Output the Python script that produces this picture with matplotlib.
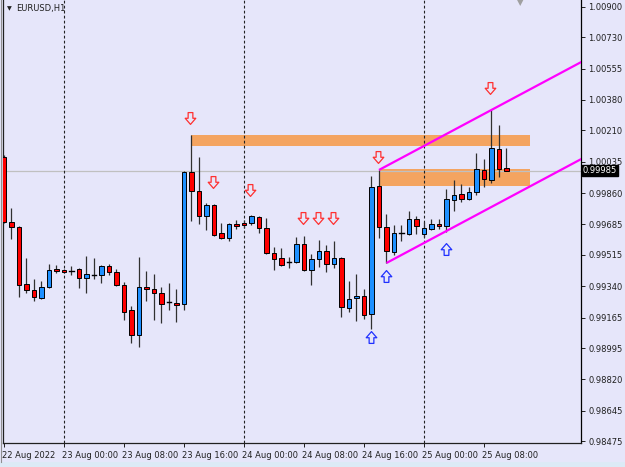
import matplotlib
matplotlib.use('Agg')
import matplotlib.pyplot as plt
import matplotlib.transforms as mtransforms
from matplotlib.patches import Rectangle
from matplotlib.path import Path

# ---------------- data (EURUSD H1, bars from 22 Aug 16:00) ----------------
opens = [1.00061, 0.99699, 0.99671, 0.99353, 0.99319, 0.99275, 0.99336, 0.99436, 0.99431, 0.99425,
         0.99436, 0.99386, 0.99403, 0.99403, 0.99453, 0.99420, 0.99347, 0.99208, 0.99068, 0.99336,
         0.99325, 0.99303, 0.99252, 0.99247, 0.99241, 0.99978, 0.99872, 0.99732, 0.99794, 0.99637,
         0.99609, 0.99688, 0.99693, 0.99693, 0.99727, 0.99665, 0.99526, 0.99498, 0.99475, 0.99475,
         0.99576, 0.99431, 0.99492, 0.99537, 0.99464, 0.99498, 0.99219, 0.99275, 0.99286, 0.99185,
         0.99900, 0.99671, 0.99531, 0.99637, 0.99632, 0.99715, 0.99632, 0.99660, 0.99688, 0.99676,
         0.99821, 0.99855, 0.99827, 0.99866, 0.99989, 0.99933, 1.00106, 1.00000]
highs = [1.00073, 0.99777, 0.99676, 0.99498, 0.99381, 0.99369, 0.99464, 0.99459, 0.99436, 0.99453,
         0.99442, 0.99509, 0.99498, 0.99459, 0.99464, 0.99436, 0.99364, 0.99230, 0.99503, 0.99425,
         0.99409, 0.99336, 0.99358, 0.99325, 0.99983, 1.00184, 1.00061, 0.99805, 0.99799, 0.99693,
         0.99693, 0.99710, 0.99710, 0.99738, 0.99732, 0.99721, 0.99559, 0.99554, 0.99503, 0.99615,
         0.99621, 0.99520, 0.99598, 0.99570, 0.99593, 0.99503, 0.99369, 0.99409, 0.99325, 0.99955,
         0.99989, 0.99743, 0.99682, 0.99682, 0.99760, 0.99732, 0.99699, 0.99715, 0.99715, 0.99883,
         0.99933, 0.99911, 0.99894, 1.00084, 1.00050, 1.00324, 1.00240, 1.00112]
lows = [0.99693, 0.99604, 0.99280, 0.99303, 0.99258, 0.99269, 0.99330, 0.99414, 0.99414, 0.99403,
        0.99330, 0.99303, 0.99381, 0.99358, 0.99403, 0.99342, 0.99152, 0.99024, 0.99001, 0.99258,
        0.99152, 0.99135, 0.99208, 0.99141, 0.99208, 0.99704, 0.99688, 0.99654, 0.99621, 0.99604,
        0.99593, 0.99660, 0.99665, 0.99682, 0.99637, 0.99520, 0.99431, 0.99453, 0.99442, 0.99470,
        0.99425, 0.99347, 0.99448, 0.99420, 0.99442, 0.99169, 0.99196, 0.99146, 0.99157, 0.99102,
        0.99609, 0.99470, 0.99515, 0.99593, 0.99626, 0.99632, 0.99615, 0.99654, 0.99660, 0.99643,
        0.99760, 0.99810, 0.99821, 0.99849, 0.99894, 0.99916, 0.99950, 0.99982]
closes = [0.99699, 0.99671, 0.99347, 0.99319, 0.99280, 0.99336, 0.99431, 0.99425, 0.99420, 0.99425,
          0.99386, 0.99409, 0.99403, 0.99453, 0.99420, 0.99347, 0.99196, 0.99068, 0.99336, 0.99325,
          0.99303, 0.99241, 0.99252, 0.99236, 0.99978, 0.99872, 0.99732, 0.99794, 0.99626, 0.99609,
          0.99688, 0.99676, 0.99682, 0.99732, 0.99665, 0.99526, 0.99492, 0.99459, 0.99475, 0.99576,
          0.99431, 0.99492, 0.99537, 0.99464, 0.99498, 0.99224, 0.99269, 0.99286, 0.99180, 0.99894,
          0.99671, 0.99537, 0.99637, 0.99637, 0.99715, 0.99676, 0.99665, 0.99688, 0.99676, 0.99827,
          0.99849, 0.99827, 0.99866, 0.99994, 0.99939, 1.00112, 0.99994, 0.99985]

current_price = 0.99985
symbol_label = "EURUSD,H1"

x_tick_bars = [0, 8, 16, 24, 32, 40, 48, 56, 64]
x_tick_labels = ["22 Aug 2022", "23 Aug 00:00", "23 Aug 08:00", "23 Aug 16:00", "24 Aug 00:00",
                 "24 Aug 08:00", "24 Aug 16:00", "25 Aug 00:00", "25 Aug 08:00"]
day_separator_bars = [8, 32, 56]

y_ticks = [1.00900, 1.00730, 1.00555, 1.00380, 1.00210, 1.00035, 0.99860, 0.99685,
           0.99515, 0.99340, 0.99165, 0.98995, 0.98820, 0.98645, 0.98475]

# supply/demand zones: (start bar, end bar, top, bottom)
zone_start = [25, 50]
zone_end = [70.1, 70.1]
zone_top = [1.00184, 0.99992]
zone_bottom = [1.00124, 0.99900]

# channel: upper line through the highs of two bars, parallel through a low
channel_high_bars = [50, 65]
channel_low_bar = 51

# fractal-like arrows
down_arrow_bars = [25, 28, 33, 40, 42, 44, 50, 65]
down_arrow_prices = [1.00279, 0.99922, 0.99877, 0.99721, 0.99721, 0.99721, 1.00061, 1.00446]
up_arrow_bars = [49, 51, 59]
up_arrow_prices = [0.99057, 0.99397, 0.99548]

# ---------------- styling / layout ----------------
W, H = 625, 467
BG = '#E6E6FA'
BULL = '#1E90FF'
BEAR = '#FF0000'
ZONE = '#F4A460'
CHAN = '#FF00FF'

fig = plt.figure(figsize=(W / 100, H / 100), dpi=100, facecolor=BG)
ax = fig.add_axes([3 / W, (H - 443.3) / H, (580.5 - 3) / W, 443.3 / H])
ax.set_facecolor(BG)

n = len(opens)
ax.set_xlim(-0.133, 76.87)
ax.set_ylim(0.984638, 1.009374)

# zones
for s, e, t, b in zip(zone_start, zone_end, zone_top, zone_bottom):
    ax.add_patch(Rectangle((s, b), e - s, t - b, facecolor=ZONE, edgecolor='none', zorder=1))

# current price line
ax.axhline(current_price, color='#C0C0C0', lw=0.9, zorder=1.5)

# day separators
for b in day_separator_bars:
    ax.axvline(b, color='#202020', lw=0.8, ls=(0, (2.5, 2.0)), zorder=1.6)

# candles
bw = 0.66
for i in range(n):
    o, h, l, c = opens[i], highs[i], lows[i], closes[i]
    ax.plot([i, i], [l, h], color='#303030', lw=0.9, zorder=2, solid_capstyle='butt')
    if abs(c - o) < 1e-6:
        ax.plot([i - bw / 2, i + bw / 2], [o, o], color='black', lw=1.0, zorder=3)
    else:
        col = BULL if c > o else BEAR
        ax.add_patch(Rectangle((i - bw / 2, min(o, c)), bw, abs(c - o), facecolor=col,
                               edgecolor='black', lw=0.7, zorder=3))

# channel lines
b1, b2 = channel_high_bars
slope = (highs[b2] - highs[b1]) / (b2 - b1)
xe = 80
ax.plot([b1, xe], [highs[b1], highs[b1] + slope * (xe - b1)], color=CHAN, lw=1.6, zorder=4,
        solid_capstyle='butt')
ax.plot([channel_low_bar, xe], [lows[channel_low_bar], lows[channel_low_bar] + slope * (xe - channel_low_bar)],
        color=CHAN, lw=1.6, zorder=4, solid_capstyle='butt')

# hollow arrow markers
down_verts = [(-0.2, 0.5), (0.2, 0.5), (0.2, 0.02), (0.45, 0.02), (0.0, -0.5),
              (-0.45, 0.02), (-0.2, 0.02), (-0.2, 0.5)]
down_path = Path(down_verts, [Path.MOVETO] + [Path.LINETO] * 6 + [Path.CLOSEPOLY])
up_path = Path([(x, -y) for x, y in down_verts], [Path.MOVETO] + [Path.LINETO] * 6 + [Path.CLOSEPOLY])
ax.plot([b - 0.17 for b in down_arrow_bars], down_arrow_prices, ls='none', marker=down_path,
        ms=8.5, mfc='none', mec='#FF3030', mew=0.9, zorder=5)
ax.plot([b - 0.1 for b in up_arrow_bars], up_arrow_prices, ls='none', marker=up_path,
        ms=8.5, mfc='none', mec='#2030FF', mew=0.9, zorder=5)

# axes / ticks
for side in ['top']:
    ax.spines[side].set_visible(False)
ax.spines['right'].set_color('black')
ax.spines['bottom'].set_color('#202020')
ax.spines['left'].set_color('#202020')
for sp in ax.spines.values():
    sp.set_linewidth(0.9)

ax.yaxis.tick_right()
ax.set_yticks(y_ticks)
ax.set_yticklabels([f"{v:.5f}" for v in y_ticks], fontsize=6, color='#202020')
ax.tick_params(axis='y', direction='out', length=3, width=0.7, pad=2.5, color='#202020')

ax.set_xticks(x_tick_bars)
ax.set_xticklabels(x_tick_labels, fontsize=6, color='#202020', ha='left')
for lab in ax.get_xticklabels():
    lab.set_x(lab.get_position()[0])
ax.tick_params(axis='x', direction='out', length=3, width=0.7, pad=2.5, color='#202020')
offset = mtransforms.ScaledTranslation(-1.5 / 100, 0, fig.dpi_scale_trans)
for lab in ax.get_xticklabels():
    lab.set_transform(lab.get_transform() + offset)

# current price box
tr = mtransforms.blended_transform_factory(ax.transAxes, ax.transData)
ax.text(1.004, current_price, f"{current_price:.5f}", transform=tr, ha='left', va='center',
        fontsize=6, color='white', zorder=10,
        bbox=dict(boxstyle='square,pad=0.15', fc='black', ec='black'))

# title with triangle
fig.text(7 / W, 1 - 9 / H, "\u25BC", fontsize=4.5, color='#202020', ha='left', va='center')
fig.text(16 / W, 1 - 9 / H, symbol_label, fontsize=6, color='#202020', ha='left', va='center')

# small shift marker at top
fig.text(520 / W, 1 - 3 / H, "\u25BC", fontsize=6, color='#A0A0A0', ha='center', va='center')

# bottom strip and left border
fig.add_artist(Rectangle((0, 0), 1, 5 / H, transform=fig.transFigure, facecolor='#DCEAF6',
                         edgecolor='none'))
fig.add_artist(plt.Line2D([0.5 / W, 0.5 / W], [5 / H, 1], transform=fig.transFigure,
                          color='#909090', lw=0.8))

fig.savefig('out.png', dpi=100, facecolor=BG)
